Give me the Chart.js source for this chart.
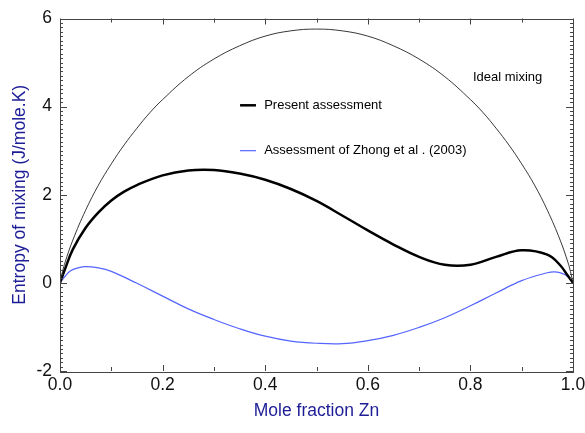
<!DOCTYPE html>
<html>
<head>
<meta charset="utf-8">
<script src="https://cdn.jsdelivr.net/npm/chart.js@4/dist/chart.umd.min.js"></script>
<style>
  html, body { margin: 0; padding: 0; background: #fff; }
  #wrap { width: 585px; height: 433px; }
</style>
</head>
<body>
<div id="wrap"><canvas id="c" width="585" height="433"></canvas></div>
<script>
// Entropy of mixing vs. mole fraction of Zn

// Ideal mixing curve
const idealX = [0, 0.005, 0.01, 0.025, 0.05, 0.075, 0.1, 0.125, 0.15, 0.175, 0.2, 0.25, 0.3, 0.35, 0.4, 0.45, 0.5,
                0.55, 0.6, 0.65, 0.7, 0.75, 0.8, 0.825, 0.85, 0.875, 0.9, 0.925, 0.95, 0.975, 0.99, 0.995, 1];
const idealS = [0, 0.26, 0.47, 0.97, 1.65, 2.22, 2.70, 3.13, 3.51, 3.86, 4.16, 4.68, 5.08, 5.38, 5.60, 5.72, 5.76,
                5.72, 5.60, 5.38, 5.08, 4.68, 4.16, 3.86, 3.51, 3.13, 2.70, 2.22, 1.65, 0.97, 0.47, 0.26, 0];

// Present assessment
const presentX = [0, 0.01, 0.025, 0.05, 0.075, 0.1, 0.125, 0.15, 0.2, 0.25, 0.3, 0.35, 0.4, 0.45, 0.5,
                  0.55, 0.6, 0.65, 0.7, 0.75, 0.8, 0.85, 0.9, 0.95, 0.975, 0.99, 1];
const presentS = [0, 0.32, 0.76, 1.25, 1.60, 1.87, 2.07, 2.22, 2.44, 2.55, 2.56, 2.48, 2.34, 2.13, 1.86,
                  1.53, 1.19, 0.87, 0.59, 0.41, 0.41, 0.59, 0.74, 0.64, 0.40, 0.16, 0];

// Assessment of Zhong et al. (2003)
const zhongX = [0, 0.01, 0.02, 0.035, 0.05, 0.075, 0.1, 0.15, 0.2, 0.25, 0.3, 0.35, 0.4, 0.45, 0.5,
                0.55, 0.6, 0.65, 0.7, 0.75, 0.8, 0.85, 0.9, 0.95, 0.965, 0.98, 0.99, 1];
const zhongS = [0, 0.15, 0.27, 0.34, 0.37, 0.34, 0.26, -0.01, -0.30, -0.59, -0.83, -1.04, -1.21, -1.32, -1.37,
                -1.38, -1.31, -1.19, -1.01, -0.79, -0.52, -0.23, 0.05, 0.23, 0.25, 0.21, 0.14, 0];

const xTicks = [0, 0.2, 0.4, 0.6, 0.8, 1.0];
const yTicks = [-2, 0, 2, 4, 6];

const seriesLabels = ['Ideal mixing', 'Present assessment', 'Assessment of Zhong et al . (2003)'];

const pts = (xs, ys) => xs.map((x, i) => ({ x: x, y: ys[i] }));

const FONT = '"Liberation Sans", Arial, Helvetica, sans-serif';
const TITLE_BLUE = '#1c1c96';

// Inward tick marks on all four sides plus the in-plot labels
const framePlugin = {
  id: 'frame',
  afterDatasetsDraw(chart) {
    const { ctx, chartArea: a, scales: { x, y } } = chart;
    ctx.save();
    ctx.strokeStyle = '#444';
    ctx.lineWidth = 1;
    ctx.beginPath();
    for (let i = 0; i <= 10; i++) {
      const v = i / 10;
      const px = Math.round(x.getPixelForValue(v)) + 0.5;
      const len = (i % 2 === 0) ? 6 : 4;
      ctx.moveTo(px, a.bottom); ctx.lineTo(px, a.bottom - len);
      ctx.moveTo(px, a.top); ctx.lineTo(px, a.top + len);
    }
    for (let i = -20; i <= 60; i++) {
      const v = i / 10;
      const py = Math.round(y.getPixelForValue(v)) + 0.5;
      const len = (i % 20 === 0) ? 7 : 3;
      ctx.moveTo(a.left, py); ctx.lineTo(a.left + len, py);
      ctx.moveTo(a.right, py); ctx.lineTo(a.right - len, py);
    }
    ctx.stroke();
    ctx.strokeRect(Math.round(a.left) + 0.5, Math.round(a.top) + 0.5,
                   Math.round(a.right - a.left), Math.round(a.bottom - a.top));

    // key entries inside the plot
    ctx.font = '13px ' + FONT;
    ctx.fillStyle = '#000';
    ctx.textBaseline = 'middle';
    ctx.textAlign = 'left';
    const keyX0 = x.getPixelForValue(0.351), keyX1 = x.getPixelForValue(0.382), keyT = x.getPixelForValue(0.398);
    let py = y.getPixelForValue(4.03);
    ctx.strokeStyle = '#000'; ctx.lineWidth = 2.5;
    ctx.beginPath(); ctx.moveTo(keyX0, py); ctx.lineTo(keyX1, py); ctx.stroke();
    ctx.fillText(seriesLabels[1], keyT, py);
    py = y.getPixelForValue(3.0);
    ctx.strokeStyle = '#5565ff'; ctx.lineWidth = 1.2;
    ctx.beginPath(); ctx.moveTo(keyX0, py); ctx.lineTo(keyX1, py); ctx.stroke();
    ctx.fillText(seriesLabels[2], keyT, py);
    ctx.fillText(seriesLabels[0], x.getPixelForValue(0.805), y.getPixelForValue(4.66));
    ctx.restore();
  }
};

new Chart(document.getElementById('c'), {
  type: 'scatter',
  data: {
    datasets: [
      { label: seriesLabels[0], data: pts(idealX, idealS), showLine: true, borderColor: '#222',
        borderWidth: 0.9, pointRadius: 0, tension: 0.4 },
      { label: seriesLabels[1], data: pts(presentX, presentS), showLine: true, borderColor: '#000',
        borderWidth: 2.5, pointRadius: 0, tension: 0.4 },
      { label: seriesLabels[2], data: pts(zhongX, zhongS), showLine: true, borderColor: '#5565ff',
        borderWidth: 1.2, pointRadius: 0, tension: 0.4 }
    ]
  },
  options: {
    responsive: false,
    animation: false,
    layout: { padding: { left: 0, right: 12, top: 15, bottom: 0 } },
    plugins: { legend: { display: false }, tooltip: { enabled: false } },
    scales: {
      x: {
        type: 'linear', min: 0, max: 1,
        afterBuildTicks: s => { s.ticks = xTicks.map(v => ({ value: v })); },
        afterFit: s => { s.height = 62; s.paddingRight = 0; },
        grid: { display: false, drawTicks: false },
        border: { display: false },
        ticks: { color: '#111', font: { family: FONT, size: 17.5 }, padding: 4,
                 maxRotation: 0, callback: v => v.toFixed(1) },
        title: { display: true, text: 'Mole fraction Zn', color: TITLE_BLUE,
                 font: { family: FONT, size: 17.5 }, padding: { top: 4, bottom: 11 } }
      },
      y: {
        type: 'linear', min: -2, max: 6,
        afterBuildTicks: s => { s.ticks = yTicks.map(v => ({ value: v })); },
        afterFit: s => { s.width = 60; },
        grid: { display: false, drawTicks: false },
        border: { display: false },
        ticks: { color: '#111', font: { family: FONT, size: 17.5 }, padding: 8 },
        title: { display: true, text: 'Entropy of mixing (J/mole.K)', color: TITLE_BLUE,
                 font: { family: FONT, size: 17.5 }, padding: { top: 10, bottom: 0 } }
      }
    }
  },
  plugins: [framePlugin]
});
</script>
</body>
</html>
